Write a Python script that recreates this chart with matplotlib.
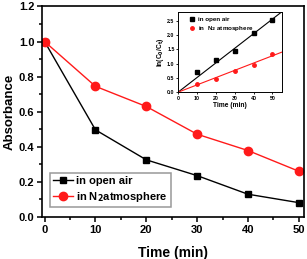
import numpy as np
import matplotlib
matplotlib.use("Agg")
import matplotlib.pyplot as plt
from matplotlib.ticker import MultipleLocator, FormatStrFormatter

plt.rcParams['font.family'] = ['Liberation Sans', 'DejaVu Sans']
plt.rcParams['font.weight'] = 'bold'
plt.rcParams['mathtext.default'] = 'bf'

# main curve: absorbance vs time
time = [0, 10, 20, 30, 40, 50]
abs_air = [1.0, 0.497, 0.326, 0.236, 0.13, 0.082]
abs_n2 = [1.0, 0.745, 0.63, 0.472, 0.379, 0.261]

# inset: ln(C0/Ct) vs time
time_in = [10, 20, 30, 40, 50]
ln_air = [0.71, 1.13, 1.44, 2.05, 2.51]
ln_n2 = [0.29, 0.47, 0.75, 0.96, 1.33]

fig = plt.figure(figsize=(3.07, 2.59), dpi=100)
ax = fig.add_axes([0.137, 0.162, 0.853, 0.813])

ax.plot(time, abs_air, '-s', color='black', markersize=5, lw=1.0, label='in open air')
ax.plot(time, abs_n2, '-o', color='#ff1a1a', markersize=6, lw=1.0, label='in N$_2$atmosphere')
ax.set_xlim(-0.5, 51)
ax.set_ylim(0, 1.2)
ax.xaxis.set_major_locator(MultipleLocator(10))
ax.xaxis.set_minor_locator(MultipleLocator(5))
ax.yaxis.set_major_locator(MultipleLocator(0.2))
ax.yaxis.set_minor_locator(MultipleLocator(0.1))
ax.tick_params(which='both', direction='out', width=1.1, labelsize=8, pad=2)
ax.tick_params(which='major', length=3.5)
ax.tick_params(which='minor', length=2)
for s in ax.spines.values():
    s.set_linewidth(1.2)
ax.set_xlabel('Time (min)', fontsize=10, fontweight='bold', labelpad=8)
ax.set_ylabel('Absorbance', fontsize=9.5, fontweight='bold')
ax.yaxis.set_label_coords(-0.1, 0.5)
leg = ax.legend(loc='lower left', fontsize=8, frameon=True, fancybox=False,
                edgecolor='gray', handlelength=1.8, handletextpad=0.3,
                borderpad=0.3, labelspacing=0.35, bbox_to_anchor=(0.008, 0.02))
leg.get_frame().set_linewidth(1.1)

# inset
ins = fig.add_axes([0.580, 0.644, 0.338, 0.31])
t = np.array(time_in, dtype=float)
k_air = np.sum(t * np.array(ln_air)) / np.sum(t * t)
k_n2 = np.sum(t * np.array(ln_n2)) / np.sum(t * t)
xs = np.array([0, 55])
ins.plot(time_in, ln_air, 's', color='black', markersize=2.5, label='in open air')
ins.plot(time_in, ln_n2, 'o', color='#ff1a1a', markersize=2.5, label='in  N$_2$ atmosphere')
ins.plot(xs, k_air * xs, color='black', lw=0.8)
ins.plot(xs, k_n2 * xs, color='#ff1a1a', lw=0.8)
ins.set_xlim(0, 55)
ins.set_ylim(0, 2.8)
ins.xaxis.set_major_locator(MultipleLocator(10))
ins.yaxis.set_major_locator(MultipleLocator(0.5))
ins.yaxis.set_major_formatter(FormatStrFormatter('%.1f'))
ins.tick_params(direction='out', length=1.5, width=0.6, labelsize=3.8, pad=1)
for s in ins.spines.values():
    s.set_linewidth(0.7)
ins.set_xlabel('Time (min)', fontsize=4.8, fontweight='bold', labelpad=1)
ins.set_ylabel('ln(C$_0$/C$_t$)', fontsize=4.8, fontweight='bold', labelpad=1)
ins.legend(loc='upper left', fontsize=4.5, frameon=False, handlelength=1.0,
           handletextpad=0.4, labelspacing=0.25, borderpad=0.3,
           bbox_to_anchor=(0.06, 1.0))

fig.savefig('out.png', dpi=100)
